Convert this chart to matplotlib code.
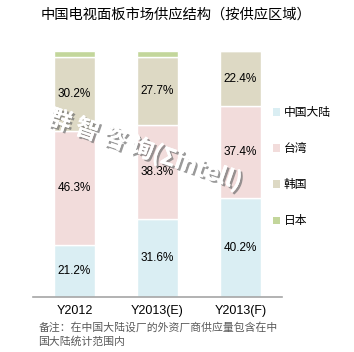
import matplotlib
matplotlib.use('Agg')
from matplotlib import pyplot as plt
from matplotlib import patheffects as pe
from matplotlib.patches import Patch

plt.rcParams['font.family'] = ['Noto Sans CJK SC', 'DejaVu Sans']

categories = ['Y2012', 'Y2013(E)', 'Y2013(F)']
series_names = ['中国大陆', '台湾', '韩国', '日本']
china = [21.2, 31.6, 40.2]
taiwan = [46.3, 38.3, 37.4]
korea = [30.2, 27.7, 22.4]
japan = [2.3, 2.4, 0.0]
colors = ['#DAEEF3', '#F2DCDB', '#DDD9C4', '#C3D69B']

title = '中国电视面板市场供应结构（按供应区域）'
note = '备注：在中国大陆设厂的外资厂商供应量包含在中\n国大陆统计范围内'
watermark = '群 智 咨 询(Σintell)'

fig = plt.figure(figsize=(3.54, 3.52), dpi=100)
ax = fig.add_axes([0.0932, 0.1563, 0.7034, 0.6987])

x = range(len(categories))
bottom = [0.0] * len(categories)
for vals, name, c in zip([china, taiwan, korea, japan], series_names, colors):
    ax.bar(x, vals, bottom=bottom, width=0.5, color=c, edgecolor='white',
           linewidth=1.0, label=name)
    if name != '日本':
        for i, v in enumerate(vals):
            ax.text(i, bottom[i] + v / 2, '%.1f%%' % v, ha='center', va='center',
                    fontsize=8.5, family=['Liberation Sans', 'DejaVu Sans'], color='black')
    bottom = [b + v for b, v in zip(bottom, vals)]

ax.set_xlim(-0.5, 2.5)
ax.set_ylim(0, 100)
ax.set_xticks(list(x))
ax.set_xticklabels(categories, fontsize=9, family=['Liberation Sans', 'DejaVu Sans'])
ax.tick_params(axis='x', length=0, pad=6)
ax.set_yticks([])
for s in ['top', 'right', 'left']:
    ax.spines[s].set_visible(False)
ax.spines['bottom'].set_color('#A6A6A6')
ax.spines['bottom'].set_linewidth(1.2)

handles = [Patch(facecolor=c, edgecolor='none') for c in colors]
leg = ax.legend(handles, series_names, loc='upper left', bbox_to_anchor=(0.945, 0.795),
                frameon=False, fontsize=8.5, handlelength=0.55, handleheight=0.55,
                handletextpad=0.35, labelspacing=1.95, borderaxespad=0)

fig.text(0.497, 0.958, title, ha='center', va='center', fontsize=10.3)
fig.text(0.108, 0.05, note, ha='left', va='center', fontsize=7.8, color='#595959',
         linespacing=1.3)

ax.text(0.45, 0.6, watermark, transform=ax.transAxes, ha='center', va='center',
        rotation=-19, fontsize=17, fontweight='bold', color='white',
        path_effects=[pe.withSimplePatchShadow(offset=(1.5, -1.5), shadow_rgbFace='#707070', alpha=0.7),
                      pe.Normal()], zorder=5)

fig.savefig('out.png', dpi=100)
